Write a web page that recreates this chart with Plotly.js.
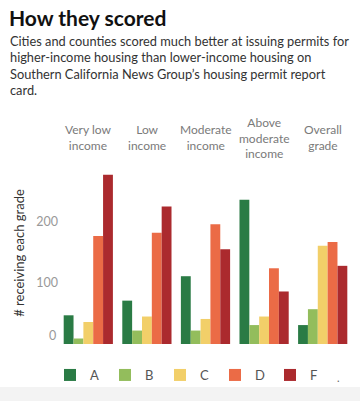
<!DOCTYPE html>
<html>
<head>
<meta charset="utf-8">
<script src="https://cdn.plot.ly/plotly-3.0.1.min.js"></script>
<style>
html,body{margin:0;padding:0;background:#fff;}
#chart{width:360px;height:401px;}
</style>
</head>
<body>
<div id="chart"></div>
<script>
// ---- data ----
const groups = ['Very low income','Low income','Moderate income','Above moderate income','Overall grade'];
const groupLabels = ['Very low<br>income','Low<br>income','Moderate<br>income','Above<br>moderate<br>income','Overall<br>grade'];
const grades = ['A','B','C','D','F'];
const gradeA = [47, 71, 111, 236, 31];
const gradeB = [9, 22, 22, 31, 57];
const gradeC = [36, 45, 41, 45, 161];
const gradeD = [177, 182, 196, 124, 167];
const gradeF = [277, 225, 155, 86, 128];
const yTicks = [0, 100, 200];
const yTickText = ['', '100', '200'];
const subtitleLines = [
  'Cities and counties scored much better at issuing permits for',
  'higher-income housing than lower-income housing on',
  'Southern California News Group\u2019s housing permit report',
  'card.'
];

const gradeColors = ['#2a7b45', '#93bd5c', '#f2cf69', '#eb6b46', '#ab2a2e'];
const seriesValues = [gradeA, gradeB, gradeC, gradeD, gradeF];

// ---- layout geometry ----
const W = 360, H = 401;
const M = {l: 59, r: 8, t: 162, b: 57};
const pw = W - M.l - M.r, ph = H - M.t - M.b;
const px = x => (x - M.l) / pw;
const py = y => (M.t + ph - y) / ph;
const FONT = 'Lato, sans-serif';

const traces = grades.map((g, i) => ({
  type: 'bar',
  name: g,
  x: groups,
  y: seriesValues[i],
  marker: {color: gradeColors[i], line: {width: 0}},
  hoverinfo: 'x+y+name'
}));

const annotations = groups.map((g, i) => ({
  xref: 'x', yref: 'paper', x: g, y: py(137.5),
  text: groupLabels[i], showarrow: false,
  xanchor: 'center', yanchor: 'middle', align: 'center',
  font: {family: FONT, size: 12, color: '#7a7a7a'}
}));

subtitleLines.forEach((line, i) => {
  annotations.push({
    xref: 'paper', yref: 'paper', x: px(8), y: py(41 + i * 16.4), xanchor: 'left', yanchor: 'middle', align: 'left',
    showarrow: false, text: line,
    font: {family: FONT, size: 12.8, color: '#333'}
  });
});
annotations.push({
  xref: 'paper', yref: 'paper', x: px(58), y: py(335), xanchor: 'right', yanchor: 'middle',
  showarrow: false, text: '0', font: {family: FONT, size: 12.5, color: '#999'}
});
annotations.push({
  xref: 'paper', yref: 'paper', x: px(338), y: py(377), xanchor: 'center', yanchor: 'middle',
  showarrow: false, text: '.', font: {family: FONT, size: 11, color: '#666'}
});

const layout = {
  width: W, height: H,
  margin: M,
  paper_bgcolor: '#fff', plot_bgcolor: '#fff',
  title: {
    text: '<b>How they scored</b>',
    font: {family: FONT, size: 21, color: '#111'},
    x: 9 / W, xanchor: 'left', xref: 'container',
    y: 1 - 19 / H, yanchor: 'middle', yref: 'container'
  },
  barmode: 'group', bargap: 0.16, bargroupgap: 0,
  xaxis: {showticklabels: false, showgrid: false, zeroline: false, showline: false, ticks: '', fixedrange: true},
  yaxis: {
    range: [0, 298], tickvals: yTicks, ticktext: yTickText,
    showgrid: false, zeroline: false, showline: false, ticks: '',
    tickfont: {family: FONT, size: 12.5, color: '#999'},
    title: {text: '# receiving each grade', font: {family: FONT, size: 13, color: '#333'}, standoff: 8},
    fixedrange: true
  },
  showlegend: true,
  legend: {
    orientation: 'h', x: px(50), xanchor: 'left', y: py(375), yanchor: 'middle',
    entrywidth: 10, entrywidthmode: 'pixels', itemclick: false,
    font: {family: FONT, size: 13, color: '#555'}, bgcolor: 'rgba(0,0,0,0)'
  },
  shapes: [{
    type: 'rect', xref: 'paper', yref: 'paper', layer: 'below',
    x0: px(0), x1: px(W), y0: py(387), y1: py(H + 2),
    fillcolor: '#f3f3f3', line: {width: 0}
  }],
  annotations: annotations
};

Plotly.newPlot('chart', traces, layout, {displayModeBar: false, staticPlot: true});
</script>
</body>
</html>
